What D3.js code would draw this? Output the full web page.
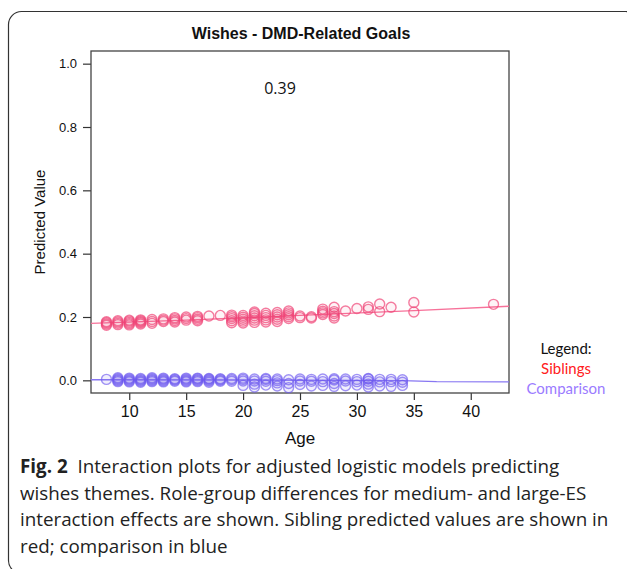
<!DOCTYPE html>
<html><head><meta charset="utf-8">
<script src="https://cdn.jsdelivr.net/npm/d3@7"></script>
<style>body{margin:0;background:#fff}svg{display:block}</style>
</head><body>
<svg id="c" width="627" height="569"></svg>
<script>
const xTicks = [10, 15, 20, 25, 30, 35, 40];
const yTicks = [0.0, 0.2, 0.4, 0.6, 0.8, 1.0];

// Siblings: age -> predicted values
const siblingPoints = [
  [8, [0.174, 0.178, 0.182, 0.185]],
  [9, [0.176, 0.180, 0.184, 0.188]],
  [10, [0.175, 0.179, 0.183, 0.187, 0.190]],
  [11, [0.178, 0.182, 0.185, 0.188, 0.191]],
  [12, [0.180, 0.186, 0.192]],
  [13, [0.186, 0.190, 0.194]],
  [14, [0.184, 0.189, 0.194, 0.198]],
  [15, [0.190, 0.195, 0.200]],
  [16, [0.188, 0.193, 0.198, 0.202]],
  [17, [0.203]],
  [18, [0.205]],
  [19, [0.182, 0.188, 0.195, 0.201, 0.206]],
  [20, [0.181, 0.187, 0.193, 0.199, 0.205]],
  [21, [0.183, 0.190, 0.197, 0.204, 0.211, 0.216]],
  [22, [0.184, 0.191, 0.198, 0.205, 0.212]],
  [23, [0.186, 0.193, 0.200, 0.207, 0.214]],
  [24, [0.195, 0.201, 0.207, 0.213, 0.219]],
  [25, [0.198, 0.203]],
  [26, [0.197, 0.201]],
  [27, [0.208, 0.213, 0.218, 0.225]],
  [28, [0.197, 0.203, 0.211, 0.217, 0.231]],
  [29, [0.219]],
  [30, [0.227]],
  [31, [0.224, 0.232]],
  [32, [0.217, 0.241]],
  [33, [0.231]],
  [35, [0.216, 0.246]],
  [42, [0.240]]
];
// Comparison: age -> predicted values
const comparisonPoints = [
  [8, [0.003]],
  [9, [-0.004, -0.001, 0.002, 0.005, 0.008]],
  [10, [-0.005, -0.002, 0.001, 0.004, 0.007]],
  [11, [-0.006, -0.003, 0.000, 0.003, 0.006]],
  [12, [-0.004, -0.001, 0.002, 0.005, 0.008]],
  [13, [-0.005, -0.002, 0.001, 0.004, 0.007]],
  [14, [-0.003, 0.000, 0.003, 0.005]],
  [15, [-0.005, -0.002, 0.001, 0.004, 0.007]],
  [16, [-0.004, -0.001, 0.002, 0.005, 0.007]],
  [17, [-0.006, -0.002, 0.001, 0.004, 0.006]],
  [18, [-0.003, 0.000, 0.003, 0.005]],
  [19, [-0.003, 0.002, 0.006]],
  [20, [-0.016, -0.002, 0.003, 0.007]],
  [21, [-0.021, -0.012, -0.002, 0.004]],
  [22, [-0.015, -0.003, 0.003, 0.006]],
  [23, [-0.018, -0.008, -0.001, 0.004]],
  [24, [-0.023, -0.010, 0.002]],
  [25, [-0.013, -0.002, 0.004]],
  [26, [-0.018, -0.003, 0.003]],
  [27, [-0.016, -0.004, 0.004]],
  [28, [-0.019, -0.010, 0.001, 0.005]],
  [29, [-0.017, -0.002, 0.004]],
  [30, [-0.015, -0.004, 0.003]],
  [31, [-0.021, -0.012, -0.003, 0.004, 0.006]],
  [32, [-0.018, -0.005, 0.003]],
  [33, [-0.019, -0.004, 0.003]],
  [34, [-0.016, -0.006, 0.002]]
];
const siblingLine = [[6.64, 0.180], [15, 0.190], [25, 0.205], [35, 0.220], [43.36, 0.234]];
const comparisonLine = [[6.64, 0.002], [20, 0.001], [34, -0.001], [37, -0.004], [43.36, -0.005]];

const title = "Wishes - DMD-Related Goals";
const annotation = "0.39";
const captionLines = [
  ["Fig. 2", "  Interaction plots for adjusted logistic models predicting"],
  ["", "wishes themes. Role-group differences for medium- and large-ES"],
  ["", "interaction effects are shown. Sibling predicted values are shown in"],
  ["", "red; comparison in blue"]
];

const svg = d3.select("#c");
const pinkPt = "rgba(240,70,120,0.7)", purplePt = "rgba(110,90,240,0.65)";
const pinkLine = "#f7729a", purpleLine = "#8877f2";

// frame
svg.append("rect").attr("x", 8.5).attr("y", 11.5).attr("width", 630).attr("height", 562)
  .attr("rx", 13).attr("fill", "none").attr("stroke", "#333").attr("stroke-width", 1.2);

const L = 91, R = 509, T = 51, B = 393;
const x = d3.scaleLinear().domain([6.64, 43.36]).range([L, R]);
const y = d3.scaleLinear().domain([-0.04, 1.04]).range([B, T]);

const g = svg.append("g");
const ya = d3.axisLeft(y).tickValues(yTicks).tickFormat(d3.format(".1f")).tickSize(8).tickPadding(6);
const yg = g.append("g").attr("transform", `translate(${L},0)`).call(ya);
const xa = d3.axisBottom(x).tickValues(xTicks).tickFormat(d3.format("d")).tickSize(7).tickPadding(6);
const xg = g.append("g").attr("transform", `translate(0,${B})`).call(xa);
[yg, xg].forEach(a => {
  a.select(".domain").remove();
  a.selectAll("line").attr("stroke", "#333").attr("stroke-width", 1.2);
});
yg.selectAll("text").attr("font-family", "Liberation Sans, Arial, sans-serif").attr("font-size", 13).attr("fill", "#111");
xg.selectAll("text").attr("font-family", "Liberation Sans, Arial, sans-serif").attr("font-size", 16).attr("fill", "#111");

// box
g.append("rect").attr("x", L).attr("y", T).attr("width", R - L).attr("height", B - T)
  .attr("fill", "none").attr("stroke", "#444").attr("stroke-width", 1.3);

// lines
const line = d3.line().x(d => x(d[0])).y(d => y(d[1]));
g.append("path").datum(siblingLine).attr("d", line).attr("fill", "none").attr("stroke", pinkLine).attr("stroke-width", 1.4);
g.append("path").datum(comparisonLine).attr("d", line).attr("fill", "none").attr("stroke", purpleLine).attr("stroke-width", 1.4);

function flat(arr) { return arr.flatMap(([a, vs]) => vs.map(v => [a, v])); }
g.append("g").selectAll("circle").data(flat(siblingPoints)).join("circle")
  .attr("cx", d => x(d[0])).attr("cy", d => y(d[1])).attr("r", 5)
  .attr("fill", "rgba(240,70,120,0.06)").attr("stroke", pinkPt).attr("stroke-width", 1.4);
g.append("g").selectAll("circle").data(flat(comparisonPoints)).join("circle")
  .attr("cx", d => x(d[0])).attr("cy", d => y(d[1])).attr("r", 5)
  .attr("fill", "rgba(110,90,240,0.1)").attr("stroke", purplePt).attr("stroke-width", 1.4);

// title
svg.append("text").attr("x", 301).attr("y", 39).attr("text-anchor", "middle")
  .attr("font-family", "Liberation Sans, Arial, sans-serif").attr("font-weight", "bold").attr("font-size", 16)
  .attr("fill", "#111").text(title);
// axis labels
svg.append("text").attr("x", 300).attr("y", 444).attr("text-anchor", "middle")
  .attr("font-family", "Liberation Sans, Arial, sans-serif").attr("font-size", 17).attr("fill", "#111").text("Age");
svg.append("text").attr("transform", `translate(45,${(T + B) / 2}) rotate(-90)`).attr("text-anchor", "middle")
  .attr("font-family", "Liberation Sans, Arial, sans-serif").attr("font-size", 15).attr("fill", "#111").text("Predicted Value");
// annotation
svg.append("text").attr("x", 280).attr("y", 94).attr("text-anchor", "middle")
  .attr("font-family", "Open Sans, sans-serif").attr("font-size", 16).attr("fill", "#111").text(annotation);

// legend
const lg = [["Legend:", "#111"], ["Siblings", "#ff2020"], ["Comparison", "#9b7bff"]];
svg.append("g").selectAll("text").data(lg).join("text")
  .attr("x", 566).attr("y", (d, i) => 354 + i * 20).attr("text-anchor", "middle")
  .attr("font-family", "Lato, sans-serif").attr("font-size", 15).attr("fill", d => d[1]).text(d => d[0]);

// caption
const cap = svg.append("g");
captionLines.forEach((ln, i) => {
  const t = cap.append("text").attr("x", 20).attr("y", 473 + i * 26.5)
    .attr("font-family", "Open Sans, sans-serif").attr("font-size", 18.8).attr("fill", "#222");
  if (ln[0]) t.append("tspan").attr("font-weight", "bold").text(ln[0]);
  t.append("tspan").attr("xml:space", "preserve").style("white-space", "pre").text(ln[1]);
});
</script>
</body></html>
